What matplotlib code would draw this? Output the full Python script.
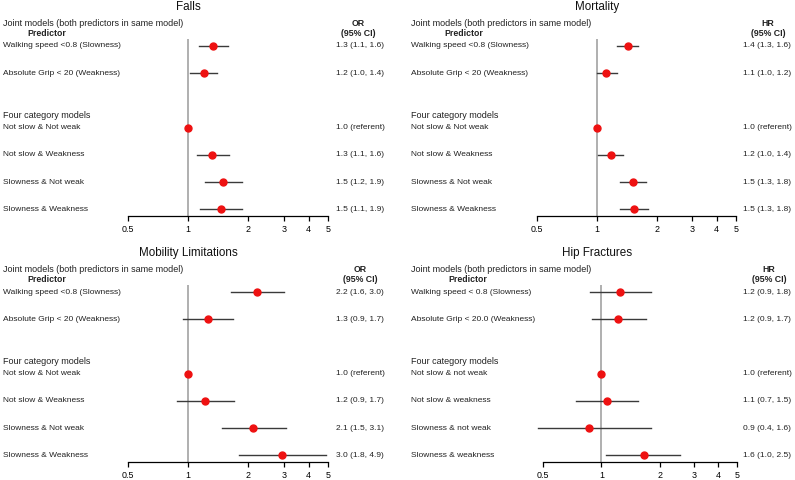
import numpy as np
import matplotlib
matplotlib.use("Agg")
import matplotlib.pyplot as plt
from matplotlib.transforms import blended_transform_factory

plt.rcParams['font.family'] = ['Liberation Sans', 'DejaVu Sans']

nan = np.nan

# ---------------- data ----------------
labels_std = ["Walking speed <0.8 (Slowness)", "Absolute Grip < 20 (Weakness)",
              "Not slow & Not weak", "Not slow & Weakness",
              "Slowness & Not weak", "Slowness & Weakness"]
labels_hip = ["Walking speed < 0.8 (Slowness)", "Absolute Grip < 20.0 (Weakness)",
              "Not slow & not weak", "Not slow & weakness",
              "Slowness & not weak", "Slowness & weakness"]

falls_est = [1.33, 1.20, 1.0, 1.32, 1.50, 1.46]
falls_lo = [1.135, 1.02, nan, 1.11, 1.22, 1.15]
falls_hi = [1.58, 1.40, nan, 1.60, 1.86, 1.86]
falls_txt = ["1.3 (1.1, 1.6)", "1.2 (1.0, 1.4)", "1.0 (referent)",
             "1.3 (1.1, 1.6)", "1.5 (1.2, 1.9)", "1.5 (1.1, 1.9)"]

mort_est = [1.43, 1.11, 1.0, 1.18, 1.52, 1.53]
mort_lo = [1.26, 1.00, nan, 1.01, 1.31, 1.31]
mort_hi = [1.61, 1.26, nan, 1.35, 1.76, 1.80]
mort_txt = ["1.4 (1.3, 1.6)", "1.1 (1.0, 1.2)", "1.0 (referent)",
            "1.2 (1.0, 1.4)", "1.5 (1.3, 1.8)", "1.5 (1.3, 1.8)"]

mob_est = [2.21, 1.26, 1.0, 1.22, 2.11, 2.95]
mob_lo = [1.64, 0.94, nan, 0.88, 1.48, 1.80]
mob_hi = [3.02, 1.68, nan, 1.70, 3.09, 4.90]
mob_txt = ["2.2 (1.6, 3.0)", "1.3 (0.9, 1.7)", "1.0 (referent)",
           "1.2 (0.9, 1.7)", "2.1 (1.5, 3.1)", "3.0 (1.8, 4.9)"]

hip_est = [1.25, 1.22, 1.0, 1.07, 0.86, 1.65]
hip_lo = [0.87, 0.89, nan, 0.74, 0.47, 1.06]
hip_hi = [1.81, 1.69, nan, 1.55, 1.81, 2.55]
hip_txt = ["1.2 (0.9, 1.8)", "1.2 (0.9, 1.7)", "1.0 (referent)",
           "1.1 (0.7, 1.5)", "0.9 (0.4, 1.6)", "1.6 (1.0, 2.5)"]

xticks = [0.5, 1, 2, 3, 4, 5]
xtick_labels = ["0.5", "1", "2", "3", "4", "5"]

# ---------------- layout ----------------
W, H = 795, 480
fig = plt.figure(figsize=(W / 100, H / 100), dpi=100)

rows = [1, 2, 4, 5, 6, 7]
ROWPX = 27.2
TXT = '#222222'


def fx(px):
    return px / W


def fy(py):
    return 1 - py / H


def panel(title, metric, labels, est, lo, hi, txt,
          ax_l, ax_r, row1_y, label_x, val_x, hdr_x, pred_x, title_x):
    top_px = row1_y - 0.25 * ROWPX
    bot_px = row1_y + 6.26 * ROWPX
    ax = fig.add_axes([fx(ax_l), fy(bot_px), fx(ax_r - ax_l), (bot_px - top_px) / H])
    ax.set_xscale('log')
    ax.set_xlim(0.5, 5)
    ax.set_ylim(7.26, 0.75)
    ax.patch.set_visible(False)
    for s in ['top', 'right', 'left']:
        ax.spines[s].set_visible(False)
    ax.spines['bottom'].set_bounds(0.5, 5)
    ax.spines['bottom'].set_linewidth(0.9)
    ax.set_yticks([])
    ax.set_xticks(xticks)
    ax.set_xticklabels(xtick_labels)
    ax.minorticks_off()
    ax.tick_params(axis='x', length=3.5, width=0.9, pad=2.5, labelsize=6.4, colors='black')
    ax.axvline(1, color='#9a9a9a', lw=1.1, zorder=1)
    for r, e, l, h in zip(rows, est, lo, hi):
        if not np.isnan(l):
            ax.plot([l, h], [r, r], color='#3a3a3a', lw=1.0, zorder=2, clip_on=False)
        ax.plot([e], [r], 'o', color='#ee1111', ms=5, mec='#ee1111', zorder=3, clip_on=False)
    tr = blended_transform_factory(fig.transFigure, ax.transData)
    for r, lab, t in zip(rows, labels, txt):
        ax.text(fx(label_x), r, lab, transform=tr, ha='left', va='center',
                fontsize=6.0, color=TXT, clip_on=False)
        ax.text(fx(val_x), r, t, transform=tr, ha='left', va='center',
                fontsize=6.0, color=TXT, clip_on=False)
    ax.text(fx(label_x), 3.54, "Four category models", transform=tr, ha='left',
            va='center', fontsize=6.5, color=TXT, clip_on=False)
    # header texts
    base = row1_y
    fig.text(fx(title_x), fy(base - 39), title, ha='center', va='center',
             fontsize=8.4, color='#111111')
    fig.text(fx(label_x), fy(base - 23), "Joint models (both predictors in same model)",
             ha='left', va='center', fontsize=6.5, color=TXT)
    fig.text(fx(pred_x), fy(base - 13), "Predictor", ha='center', va='center',
             fontsize=6.3, fontweight='bold', color=TXT)
    fig.text(fx(hdr_x), fy(base - 23), metric, ha='center', va='center',
             fontsize=6.3, fontweight='bold', color=TXT)
    fig.text(fx(hdr_x), fy(base - 13), "(95% CI)", ha='center', va='center',
             fontsize=6.3, fontweight='bold', color=TXT)
    return ax


panel("Falls", "OR", labels_std, falls_est, falls_lo, falls_hi, falls_txt,
      128, 328, 46, 3, 336, 358, 47, 188)
panel("Mortality", "HR", labels_std, mort_est, mort_lo, mort_hi, mort_txt,
      537, 736, 46, 411, 743, 768, 464, 597)
panel("Mobility Limitations", "OR", labels_std, mob_est, mob_lo, mob_hi, mob_txt,
      128, 328, 292, 3, 336, 360, 47, 188)
panel("Hip Fractures", "HR", labels_hip, hip_est, hip_lo, hip_hi, hip_txt,
      543, 737, 292, 411, 743, 769, 468, 597)

fig.savefig("out.png", dpi=100, facecolor='white')
